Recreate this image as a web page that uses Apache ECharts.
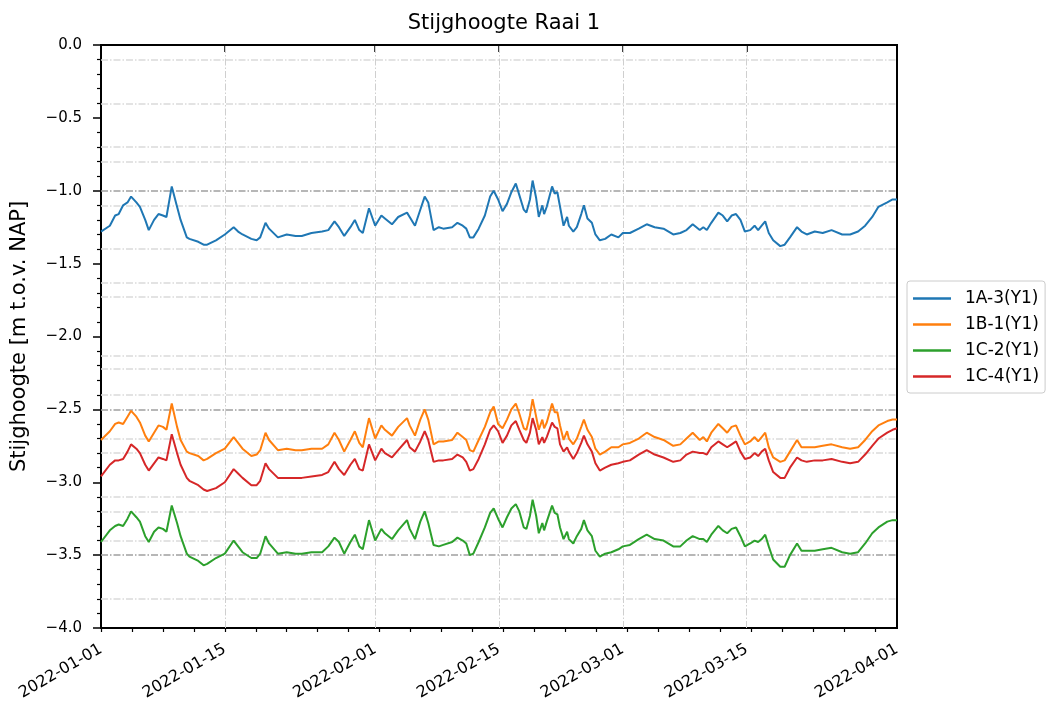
<!DOCTYPE html>
<html>
<head>
<meta charset="utf-8">
<script src="https://cdn.jsdelivr.net/npm/echarts@6/dist/echarts.min.js"></script>
<style>
  html, body { margin: 0; padding: 0; background: #fff; }
  #chart { width: 1049px; height: 709px; }
</style>
</head>
<body>
<div id="chart"></div>
<script>
// days after 2022-01-01 00:00 for each reading
const days = [
  0, 1, 1.6, 2, 2.5, 3, 3.4, 4, 4.4, 5, 5.4, 6, 6.5, 7, 7.4, 8, 8.6, 9, 9.7, 10, 11, 11.6, 12, 13, 14, 15, 15.5, 16, 17, 17.6, 18, 18.6, 19, 20, 21, 22,
  22.7, 23.8, 25, 25.7, 26.4, 26.9, 27.5, 28.2, 28.7, 29.2, 29.6, 30.3, 31, 31.7, 32.1, 32.9, 33.6, 34.6, 34.9, 35.5, 36.1, 36.6, 37, 37.6, 38.2, 38.7, 39.7, 40.3, 40.9, 41.3, 41.7, 42.1, 42.7, 43.4, 44, 44.4,
  44.9, 45.4, 45.9, 46.4, 46.9, 47.3, 47.8, 48.1, 48.5, 48.8, 49.2, 49.5, 49.9, 50.1, 50.4, 51, 51.3, 51.6, 51.9, 52.3, 52.7, 52.9, 53.4, 53.8, 54.3, 54.6, 55, 55.5, 55.9, 56.4, 57, 57.7, 58.5, 59, 59.8, 60.8, 61.7, 62.6, 63.6, 64.7, 65.5, 66.2, 66.9,
  67.7, 68.1, 68.5, 69, 69.8, 70.3, 70.8, 71.3, 71.8, 72.3, 72.8, 73.4, 73.9, 74.3, 74.7, 75.1, 75.5, 76, 76.8, 77.3, 77.9, 78.7, 79.2, 79.8, 80.7, 81.6, 82.6, 83.8, 84.7, 85.6, 86.4, 87.2, 87.9, 88.9, 89.5, 90
];

const v1A3 = [
  -1.28, -1.24, -1.17, -1.16, -1.10, -1.08, -1.04, -1.08, -1.11, -1.20, -1.27, -1.20, -1.16, -1.17, -1.18, -0.97, -1.11, -1.20, -1.32, -1.33, -1.35, -1.37, -1.37, -1.34, -1.30, -1.25, -1.28, -1.30, -1.33, -1.34, -1.32, -1.22, -1.26, -1.32, -1.30, -1.31,
  -1.31, -1.29, -1.28, -1.27, -1.21, -1.25, -1.31, -1.25, -1.20, -1.27, -1.29, -1.12, -1.24, -1.17, -1.19, -1.23, -1.18, -1.15, -1.18, -1.24, -1.13, -1.04, -1.08, -1.27, -1.25, -1.26, -1.25, -1.22, -1.24, -1.26, -1.32, -1.32, -1.26, -1.17, -1.04, -1.00,
  -1.06, -1.14, -1.09, -1.01, -0.95, -1.03, -1.13, -1.15, -1.06, -0.93, -1.05, -1.18, -1.10, -1.16, -1.11, -0.97, -1.02, -1.01, -1.11, -1.24, -1.18, -1.24, -1.28, -1.25, -1.16, -1.10, -1.19, -1.22, -1.30, -1.34, -1.33, -1.30, -1.32, -1.29, -1.29, -1.26, -1.23, -1.25, -1.26, -1.30, -1.29, -1.27, -1.23,
  -1.27, -1.25, -1.27, -1.22, -1.15, -1.17, -1.21, -1.17, -1.16, -1.20, -1.28, -1.27, -1.24, -1.27, -1.24, -1.21, -1.29, -1.34, -1.38, -1.37, -1.32, -1.25, -1.28, -1.30, -1.28, -1.29, -1.27, -1.30, -1.30, -1.28, -1.24, -1.18, -1.11, -1.08, -1.06, -1.06
];

const v1B1 = [
  -2.71, -2.65, -2.60, -2.59, -2.60, -2.55, -2.51, -2.55, -2.59, -2.68, -2.72, -2.66, -2.61, -2.62, -2.64, -2.46, -2.62, -2.71, -2.79, -2.80, -2.82, -2.85, -2.84, -2.80, -2.77, -2.69, -2.73, -2.77, -2.82, -2.81, -2.78, -2.66, -2.71, -2.78, -2.77, -2.78,
  -2.78, -2.77, -2.77, -2.74, -2.66, -2.71, -2.79, -2.71, -2.65, -2.73, -2.76, -2.56, -2.70, -2.61, -2.64, -2.68, -2.62, -2.56, -2.61, -2.68, -2.57, -2.50, -2.57, -2.74, -2.72, -2.72, -2.71, -2.66, -2.69, -2.71, -2.78, -2.79, -2.71, -2.62, -2.52, -2.48,
  -2.60, -2.63, -2.57, -2.50, -2.46, -2.53, -2.63, -2.64, -2.54, -2.43, -2.55, -2.64, -2.57, -2.63, -2.59, -2.46, -2.52, -2.52, -2.61, -2.71, -2.65, -2.70, -2.74, -2.70, -2.62, -2.57, -2.64, -2.69, -2.77, -2.81, -2.79, -2.76, -2.76, -2.74, -2.73, -2.70, -2.66, -2.69, -2.71, -2.75, -2.74, -2.70, -2.66,
  -2.71, -2.69, -2.72, -2.66, -2.60, -2.63, -2.66, -2.62, -2.61, -2.68, -2.74, -2.72, -2.69, -2.72, -2.69, -2.66, -2.76, -2.83, -2.86, -2.85, -2.79, -2.71, -2.76, -2.76, -2.76, -2.75, -2.74, -2.76, -2.77, -2.76, -2.71, -2.65, -2.61, -2.58, -2.57, -2.57
];

const v1C2 = [
  -3.41, -3.33, -3.30, -3.29, -3.30, -3.25, -3.20, -3.24, -3.27, -3.37, -3.41, -3.34, -3.31, -3.32, -3.34, -3.16, -3.28, -3.37, -3.49, -3.51, -3.54, -3.57, -3.56, -3.52, -3.49, -3.40, -3.44, -3.48, -3.52, -3.52, -3.49, -3.37, -3.42, -3.49, -3.48, -3.49,
  -3.49, -3.48, -3.48, -3.44, -3.38, -3.41, -3.49, -3.41, -3.36, -3.44, -3.46, -3.26, -3.40, -3.32, -3.35, -3.39, -3.33, -3.26, -3.32, -3.39, -3.27, -3.20, -3.28, -3.43, -3.44, -3.43, -3.41, -3.38, -3.40, -3.42, -3.50, -3.49, -3.41, -3.31, -3.21, -3.18,
  -3.25, -3.31, -3.24, -3.18, -3.15, -3.20, -3.31, -3.32, -3.23, -3.12, -3.23, -3.35, -3.28, -3.33, -3.27, -3.16, -3.21, -3.22, -3.31, -3.39, -3.34, -3.39, -3.42, -3.37, -3.32, -3.26, -3.33, -3.37, -3.47, -3.51, -3.49, -3.48, -3.46, -3.44, -3.43, -3.39, -3.36, -3.39, -3.40, -3.44, -3.44, -3.40, -3.37,
  -3.39, -3.39, -3.41, -3.36, -3.30, -3.33, -3.35, -3.32, -3.31, -3.37, -3.44, -3.42, -3.40, -3.41, -3.39, -3.36, -3.44, -3.53, -3.58, -3.58, -3.50, -3.42, -3.47, -3.47, -3.47, -3.46, -3.45, -3.48, -3.49, -3.48, -3.42, -3.35, -3.31, -3.27, -3.26, -3.26
];

const v1C4 = [
  -2.96, -2.88, -2.85, -2.85, -2.84, -2.79, -2.74, -2.77, -2.80, -2.88, -2.92, -2.87, -2.83, -2.84, -2.85, -2.67, -2.80, -2.88, -2.97, -2.99, -3.02, -3.05, -3.06, -3.04, -3.00, -2.91, -2.94, -2.97, -3.02, -3.02, -2.99, -2.87, -2.91, -2.97, -2.97, -2.97,
  -2.97, -2.96, -2.95, -2.93, -2.86, -2.91, -2.95, -2.88, -2.84, -2.91, -2.92, -2.74, -2.85, -2.77, -2.80, -2.83, -2.78, -2.71, -2.76, -2.79, -2.72, -2.65, -2.71, -2.86, -2.85, -2.85, -2.84, -2.81, -2.83, -2.86, -2.92, -2.91, -2.84, -2.74, -2.64, -2.61,
  -2.65, -2.73, -2.68, -2.61, -2.58, -2.64, -2.71, -2.73, -2.66, -2.56, -2.64, -2.74, -2.69, -2.73, -2.69, -2.59, -2.62, -2.63, -2.74, -2.79, -2.76, -2.79, -2.84, -2.80, -2.73, -2.68, -2.74, -2.79, -2.87, -2.92, -2.90, -2.88, -2.87, -2.86, -2.85, -2.81, -2.78, -2.81, -2.83, -2.86, -2.85, -2.81, -2.79,
  -2.80, -2.80, -2.81, -2.76, -2.72, -2.74, -2.76, -2.74, -2.72, -2.79, -2.84, -2.83, -2.80, -2.82, -2.79, -2.77, -2.85, -2.93, -2.97, -2.97, -2.90, -2.83, -2.85, -2.86, -2.85, -2.85, -2.84, -2.86, -2.87, -2.86, -2.81, -2.75, -2.70, -2.66, -2.64, -2.63
];

const seriesNames = ['1A-3(Y1)', '1B-1(Y1)', '1C-2(Y1)', '1C-4(Y1)'];
const seriesColors = ['#1f77b4', '#ff7f0e', '#2ca02c', '#d62728'];
const tickDates = ['2022-01-01', '2022-01-15', '2022-02-01', '2022-02-15', '2022-03-01', '2022-03-15', '2022-04-01'];

// reference levels drawn across the plot
const darkLevels = [-1.0, -2.5, -3.5];
const lightLevels = [-0.1, -0.4, -0.7, -0.8, -1.1, -1.4, -1.63, -1.73, -2.13, -2.22, -2.4, -2.7, -2.8, -3.1, -3.2, -3.4, -3.8];

const DAY = 86400000;
const t0 = Date.UTC(2022, 0, 1);
const tEnd = Date.UTC(2022, 3, 1);
const ts = s => Date.parse(s + 'T00:00:00Z');
const majorTicks = tickDates.map(ts);
const minorTicks = [];
for (let t = t0; t <= tEnd; t += 3.5 * DAY) minorTicks.push(t);

const font = 'DejaVu Sans';
const dashDot = [7, 2, 1.5, 2];

const chart = echarts.init(document.getElementById('chart'));

const refLines = [
  ...lightLevels.map(v => ({ yAxis: v, lineStyle: { color: '#dadada', width: 1.5, type: dashDot } })),
  ...darkLevels.map(v => ({ yAxis: v, lineStyle: { color: '#a0a0a0', width: 1.5, type: dashDot } })),
  ...majorTicks.slice(1, -1).map(t => ({ xAxis: t, lineStyle: { color: '#cfcfcf', width: 1, type: dashDot } }))
];

const allValues = [v1A3, v1B1, v1C2, v1C4];

const option = {
  animation: false,
  backgroundColor: '#fff',
  title: {
    text: 'Stijghoogte Raai 1',
    left: 499, top: 8, textAlign: 'center',
    textStyle: { fontFamily: font, fontSize: 21, fontWeight: 'normal', color: '#000' }
  },
  legend: {
    orient: 'vertical',
    left: 907, top: 281,
    padding: [9, 6, 8, 6],
    itemGap: 9,
    icon: 'rect',
    itemWidth: 38, itemHeight: 2.5,
    borderColor: '#cccccc', borderWidth: 1, borderRadius: 3,
    textStyle: { fontFamily: font, fontSize: 17, color: '#000', padding: [0, 0, 0, 9] },
    data: seriesNames
  },
  grid: {
    left: 101, top: 45, right: 152, bottom: 81,
    show: true, borderColor: '#000', borderWidth: 2, backgroundColor: 'transparent'
  },
  xAxis: [{
    type: 'value', min: t0, max: tEnd,
    splitLine: { show: false },
    axisLine: { show: true, lineStyle: { color: '#000', width: 2 } },
    axisTick: { customValues: majorTicks, length: 7, lineStyle: { color: '#000', width: 1.5 } },
    axisLabel: {
      customValues: majorTicks, rotate: 30, margin: 20,
      fontFamily: font, fontSize: 16, color: '#000',
      formatter: v => new Date(v).toISOString().slice(0, 10)
    }
  }, {
    type: 'value', min: t0, max: tEnd, position: 'bottom',
    axisLine: { show: false }, splitLine: { show: false },
    axisTick: { customValues: minorTicks, length: 4, lineStyle: { color: '#000', width: 1.2 } },
    axisLabel: { show: false }
  }],
  yAxis: {
    type: 'value', min: -4, max: 0, interval: 0.5,
    name: 'Stijghoogte [m t.o.v. NAP]',
    nameLocation: 'middle', nameRotate: 90, nameGap: 71,
    nameTextStyle: { fontFamily: font, fontSize: 21, color: '#000' },
    splitLine: { show: false },
    axisLine: { show: true, lineStyle: { color: '#000', width: 2 } },
    axisTick: { length: 8, lineStyle: { color: '#000', width: 1.5 } },
    minorTick: { show: true, splitNumber: 5, length: 4, lineStyle: { color: '#000', width: 1.2 } },
    axisLabel: {
      margin: 19, fontFamily: font, fontSize: 15, color: '#000',
      formatter: v => v.toFixed(1).replace('-', '\u2212')
    }
  },
  series: seriesNames.map((name, i) => ({
    name,
    type: 'line',
    symbol: 'none',
    color: seriesColors[i],
    lineStyle: { width: 2 },
    data: days.map((d, k) => [t0 + d * DAY, allValues[i][k]]),
    z: 3,
    markLine: i === 0 ? { silent: true, symbol: 'none', label: { show: false }, z: 1, data: refLines } : undefined
  }))
};

chart.setOption(option);
</script>
</body>
</html>
